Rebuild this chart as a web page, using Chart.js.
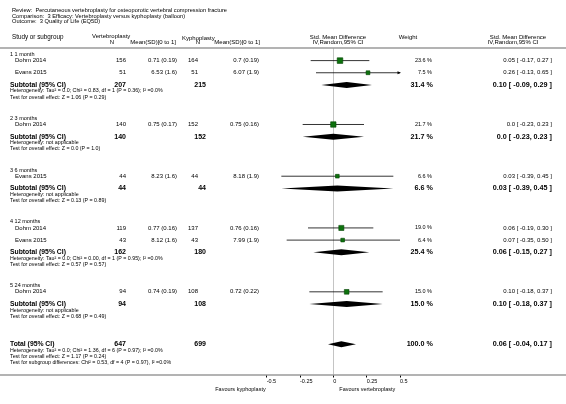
<!DOCTYPE html>
<html lang="en">
<head>
<meta charset="UTF-8">
<title>Vertebroplasty versus kyphoplasty - Quality of Life (EQ5D)</title>
<script src="https://cdn.jsdelivr.net/npm/chart.js"></script>
<style>
  html, body { margin: 0; padding: 0; background: #fff; overflow: hidden; }
</style>
</head>
<body>
<canvas id="forest" width="566" height="404"></canvas>
<script>
  // --- data ---
  const titleLines = [
    'Review:  Percutaneous vertebroplasty for osteoporotic vertebral compression fracture',
    'Comparison:  3 Efficacy: Vertebroplasty versus kyphoplasty (balloon)',
    'Outcome:  3 Quality of Life (EQ5D)'
  ];
  const groups = ['1 1 month', '2 3 months', '3 6 months', '4 12 months', '5 24 months'];

  const studyGroup = [0, 0, 1, 2, 3, 3, 4];
  const studyNames = ['Dohm 2014', 'Evans 2015', 'Dohm 2014', 'Evans 2015', 'Dohm 2014', 'Evans 2015', 'Dohm 2014'];
  const vertN = [156, 51, 140, 44, 119, 43, 94];
  const vertMean = ['0.71 (0.19)', '6.53 (1.6)', '0.75 (0.17)', '8.23 (1.6)', '0.77 (0.16)', '8.12 (1.6)', '0.74 (0.19)'];
  const kyphN = [164, 51, 152, 44, 137, 43, 108];
  const kyphMean = ['0.7 (0.19)', '6.07 (1.9)', '0.75 (0.16)', '8.18 (1.9)', '0.76 (0.16)', '7.99 (1.9)', '0.72 (0.22)'];
  const smd = [0.05, 0.26, 0.0, 0.03, 0.06, 0.07, 0.10];
  const lower = [-0.17, -0.13, -0.23, -0.39, -0.19, -0.35, -0.18];
  const upper = [0.27, 0.65, 0.23, 0.45, 0.30, 0.50, 0.37];
  const weight = [23.6, 7.5, 21.7, 6.6, 19.0, 6.4, 15.0];

  const subVertN = [207, 140, 44, 162, 94];
  const subKyphN = [215, 152, 44, 180, 108];
  const subSmd = [0.10, 0.0, 0.03, 0.06, 0.10];
  const subLower = [-0.09, -0.23, -0.39, -0.15, -0.18];
  const subUpper = [0.29, 0.23, 0.45, 0.27, 0.37];
  const subWeight = [31.4, 21.7, 6.6, 25.4, 15.0];
  const subHeterogeneity = [
    'Heterogeneity: Tau\u00b2 = 0.0; Chi\u00b2 = 0.83, df = 1 (P = 0.36); I\u00b2 =0.0%',
    'Heterogeneity: not applicable',
    'Heterogeneity: not applicable',
    'Heterogeneity: Tau\u00b2 = 0.0; Chi\u00b2 = 0.00, df = 1 (P = 0.95); I\u00b2 =0.0%',
    'Heterogeneity: not applicable'
  ];
  const subOverall = [
    'Test for overall effect: Z = 1.06 (P = 0.29)',
    'Test for overall effect: Z = 0.0 (P = 1.0)',
    'Test for overall effect: Z = 0.13 (P = 0.89)',
    'Test for overall effect: Z = 0.57 (P = 0.57)',
    'Test for overall effect: Z = 0.68 (P = 0.49)'
  ];

  const totalVertN = 647;
  const totalKyphN = 699;
  const totalSmd = 0.06;
  const totalLower = -0.04;
  const totalUpper = 0.17;
  const totalWeight = 100.0;
  const totalNotes = [
    'Heterogeneity: Tau\u00b2 = 0.0; Chi\u00b2 = 1.36, df = 6 (P = 0.97); I\u00b2 =0.0%',
    'Test for overall effect: Z = 1.17 (P = 0.24)',
    'Test for subgroup differences: Chi\u00b2 = 0.53, df = 4 (P = 0.97), I\u00b2 =0.0%'
  ];

  const tickValues = [-0.5, -0.25, 0, 0.25, 0.5];
  const tickLabels = ['-0.5', '-0.25', '0', '0.25', '0.5'];
  const favoursLeft = 'Favours kyphoplasty';
  const favoursRight = 'Favours vertebroplasty';

  // --- row layout (in line units, top to bottom) ---
  const groupRow = [], studyRow = [], subRow = [];
  let pos = 0;
  groups.forEach((g, gi) => {
    groupRow.push(pos);
    let first = true;
    studyGroup.forEach((sg, si) => {
      if (sg !== gi) return;
      pos += first ? 1 : 2;
      first = false;
      studyRow[si] = pos;
    });
    pos += 2;
    subRow.push(pos);
    pos += 2;
    if (gi < groups.length - 1) pos += 3.5;
  });
  const totalRow = pos + 4.6;

  const FONT = '"Liberation Sans", Arial, sans-serif';
  const fmt = v => (v === 0 ? '0.0' : v.toFixed(2));
  const ciText = (m, l, u) => `${fmt(m)} [ ${fmt(l)}, ${fmt(u)} ]`;

  function txt(ctx, s, x, y, align, size, bold) {
    ctx.font = (bold ? 'bold ' : '') + size + 'px ' + FONT;
    ctx.textAlign = align;
    ctx.textBaseline = 'middle';
    ctx.fillStyle = '#000';
    ctx.fillText(s, x, y);
  }

  const forestPlugin = {
    id: 'forest',
    beforeDatasetsDraw(chart) {
      const ctx = chart.ctx;
      const xs = chart.scales.x, ys = chart.scales.y;
      const W = chart.width;
      ctx.save();
      // header rule and axis rule across the whole figure
      ctx.strokeStyle = '#9a9a9a';
      ctx.lineWidth = 1.6;
      ctx.beginPath();
      ctx.moveTo(0, chart.chartArea.top); ctx.lineTo(W, chart.chartArea.top);
      ctx.moveTo(0, chart.chartArea.bottom); ctx.lineTo(W, chart.chartArea.bottom);
      ctx.stroke();

      // confidence intervals
      ctx.strokeStyle = '#000';
      ctx.fillStyle = '#000';
      ctx.lineWidth = 0.8;
      smd.forEach((m, i) => {
        const y = ys.getPixelForValue(studyRow[i]);
        const l = Math.max(lower[i], xs.min), u = Math.min(upper[i], xs.max);
        const x1 = xs.getPixelForValue(l), x2 = xs.getPixelForValue(u);
        ctx.beginPath();
        ctx.moveTo(x1, y); ctx.lineTo(x2, y);
        ctx.stroke();
        if (upper[i] > xs.max) {
          ctx.beginPath();
          ctx.moveTo(x2 + 1, y); ctx.lineTo(x2 - 2.5, y - 1.6); ctx.lineTo(x2 - 2.5, y + 1.6);
          ctx.closePath(); ctx.fill();
        }
        if (lower[i] < xs.min) {
          ctx.beginPath();
          ctx.moveTo(x1 - 1, y); ctx.lineTo(x1 + 2.5, y - 1.6); ctx.lineTo(x1 + 2.5, y + 1.6);
          ctx.closePath(); ctx.fill();
        }
      });

      // diamonds
      const diamond = (m, l, u, row) => {
        const y = ys.getPixelForValue(row);
        const h = 3;
        ctx.beginPath();
        ctx.moveTo(xs.getPixelForValue(l), y);
        ctx.lineTo(xs.getPixelForValue(m), y - h);
        ctx.lineTo(xs.getPixelForValue(u), y);
        ctx.lineTo(xs.getPixelForValue(m), y + h);
        ctx.closePath();
        ctx.fill();
      };
      subSmd.forEach((m, i) => diamond(m, subLower[i], subUpper[i], subRow[i]));
      diamond(totalSmd, totalLower, totalUpper, totalRow);
      ctx.restore();
    },
    afterDraw(chart) {
      const ctx = chart.ctx;
      const xs = chart.scales.x, ys = chart.scales.y;
      const Y = v => ys.getPixelForValue(v);
      ctx.save();

      // title block
      titleLines.forEach((s, i) => txt(ctx, s, 12, 10.5 + i * 5.6, 'left', 5.7));

      // column headers
      txt(ctx, 'Study or subgroup', 12, 37.5, 'left', 6.3);
      txt(ctx, 'Vertebroplasty', 92, 36.5, 'left', 6);
      txt(ctx, 'N', 114, 42.5, 'right', 6);
      txt(ctx, 'Mean(SD)[0 to 1]', 176, 42.5, 'right', 6);
      txt(ctx, 'Kyphoplasty', 182, 38, 'left', 6);
      txt(ctx, 'N', 200, 42.5, 'right', 6);
      txt(ctx, 'Mean(SD)[0 to 1]', 260, 42.5, 'right', 6);
      txt(ctx, 'Std. Mean Difference', 338, 37, 'center', 6);
      txt(ctx, 'IV,Random,95% CI', 338, 42.5, 'center', 6);
      txt(ctx, 'Weight', 408, 37.5, 'center', 6);
      txt(ctx, 'Std. Mean Difference', 518, 37, 'center', 6);
      txt(ctx, 'IV,Random,95% CI', 513, 42.5, 'center', 6);

      // groups
      groups.forEach((g, gi) => {
        txt(ctx, g, 10, Y(groupRow[gi]), 'left', 5.5);
        const ySub = Y(subRow[gi]);
        txt(ctx, 'Subtotal (95% CI)', 10, ySub, 'left', 6.8, true);
        txt(ctx, String(subVertN[gi]), 126, ySub, 'right', 7, true);
        txt(ctx, String(subKyphN[gi]), 206, ySub, 'right', 7, true);
        txt(ctx, subWeight[gi].toFixed(1) + ' %', 433, ySub, 'right', 7.2, true);
        txt(ctx, ciText(subSmd[gi], subLower[gi], subUpper[gi]), 552, ySub, 'right', 7.2, true);
        txt(ctx, subHeterogeneity[gi], 10, Y(subRow[gi] + 1), 'left', 5.3);
        txt(ctx, subOverall[gi], 10, Y(subRow[gi] + 2), 'left', 5.3);
      });

      // studies
      studyNames.forEach((s, i) => {
        const y = Y(studyRow[i]);
        txt(ctx, s, 15, y, 'left', 6);
        txt(ctx, String(vertN[i]), 126, y, 'right', 6);
        txt(ctx, vertMean[i], 177, y, 'right', 6);
        txt(ctx, String(kyphN[i]), 198, y, 'right', 6);
        txt(ctx, kyphMean[i], 259, y, 'right', 6);
        txt(ctx, weight[i].toFixed(1) + ' %', 432, y, 'right', 5.5);
        txt(ctx, ciText(smd[i], lower[i], upper[i]), 552, y, 'right', 6);
      });

      // total
      const yT = Y(totalRow);
      txt(ctx, 'Total (95% CI)', 10, yT, 'left', 6.8, true);
      txt(ctx, String(totalVertN), 126, yT, 'right', 7, true);
      txt(ctx, String(totalKyphN), 206, yT, 'right', 7, true);
      txt(ctx, totalWeight.toFixed(1) + ' %', 433, yT, 'right', 7.2, true);
      txt(ctx, ciText(totalSmd, totalLower, totalUpper), 552, yT, 'right', 7.2, true);
      totalNotes.forEach((s, i) => txt(ctx, s, 10, Y(totalRow + 1 + i), 'left', 5.3));

      // favours labels
      const yF = chart.chartArea.bottom + 14;
      txt(ctx, favoursLeft, xs.getPixelForValue(-0.5) - 1, yF, 'right', 5.5);
      txt(ctx, favoursRight, xs.getPixelForValue(0) + 6, yF, 'left', 5.5);
      ctx.restore();
    }
  };

  new Chart(document.getElementById('forest'), {
    type: 'scatter',
    data: {
      datasets: [{
        label: 'Studies',
        data: smd.map((m, i) => ({ x: m, y: studyRow[i] })),
        pointStyle: 'rect',
        pointRadius: weight.map(w => (3 + 0.11 * w) / Math.SQRT2),
        backgroundColor: '#0d720d',
        borderColor: '#064406',
        borderWidth: 0.6
      }]
    },
    options: {
      responsive: false,
      animation: false,
      devicePixelRatio: 1,
      layout: { padding: { left: 266.67, right: 166, top: 48, bottom: 21 } },
      plugins: { legend: { display: false }, tooltip: { enabled: false } },
      scales: {
        x: {
          type: 'linear',
          min: -0.5,
          max: 0.5,
          afterBuildTicks: axis => { axis.ticks = tickValues.map(v => ({ value: v })); },
          afterFit: axis => { axis.height = 8; },
          border: { display: false },
          grid: {
            color: c => (c.tick && c.tick.value === 0 ? '#c4c4c4' : 'rgba(0,0,0,0)'),
            lineWidth: 1,
            tickColor: '#000',
            tickLength: 2.5
          },
          ticks: {
            align: 'start',
            padding: 1,
            color: '#000',
            font: { family: FONT, size: 5.5 },
            callback: (v, i) => tickLabels[i]
          }
        },
        y: {
          type: 'linear',
          display: false,
          reverse: true,
          min: -1.07,
          max: 52.67
        }
      }
    },
    plugins: [forestPlugin]
  });
</script>
</body>
</html>
